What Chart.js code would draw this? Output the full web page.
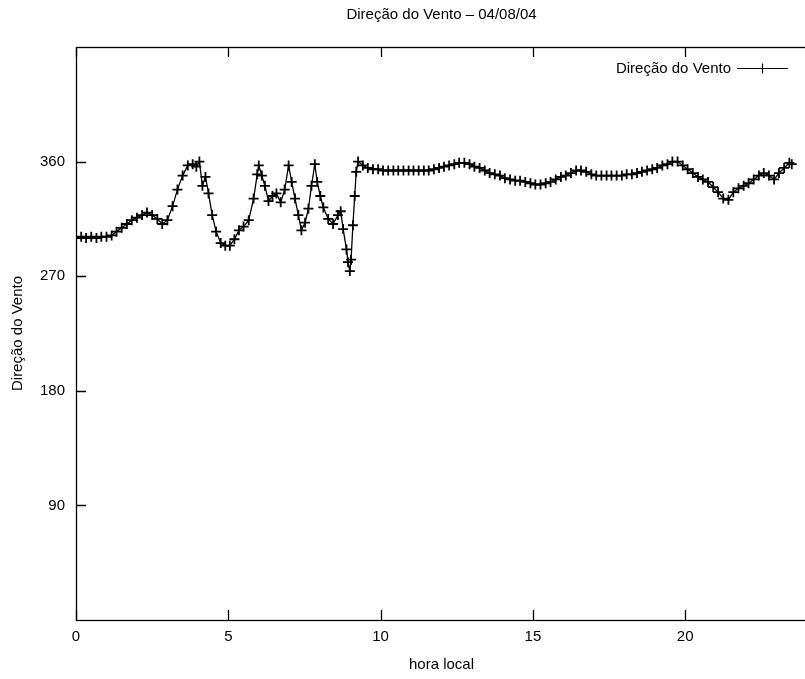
<!DOCTYPE html>
<html>
<head>
<meta charset="utf-8">
<script src="https://cdn.jsdelivr.net/npm/chart.js@4.4.1/dist/chart.umd.min.js"></script>
<style>
  html, body { margin: 0; padding: 0; background: #fff; overflow: hidden; }
  #wrap { width: 805px; height: 679px; overflow: hidden; }
</style>
</head>
<body>
<div id="wrap"><canvas id="grafico" width="815" height="679"></canvas></div>
<script>
// hora local (h) e direção do vento (graus)
const hora = [
  0.00, 0.17, 0.33, 0.50, 0.67, 0.83, 1.00, 1.17, 1.33, 1.50, 1.67, 1.83,
  2.00, 2.17, 2.33, 2.50, 2.67, 2.83, 3.00, 3.17, 3.33, 3.50, 3.67, 3.83,
  3.95, 4.05, 4.15, 4.25, 4.35, 4.47, 4.60, 4.75, 4.90, 5.05, 5.20, 5.35,
  5.50, 5.67, 5.83, 5.95, 6.00, 6.10, 6.20, 6.32, 6.45, 6.58, 6.72, 6.85,
  6.98, 7.08, 7.19, 7.30, 7.40, 7.52, 7.63, 7.73, 7.84, 7.92, 8.02, 8.12,
  8.28, 8.44, 8.60, 8.69, 8.77, 8.88, 8.93, 8.99, 9.03, 9.09, 9.15, 9.20,
  9.26, 9.42, 9.58, 9.75, 9.92, 10.08, 10.25, 10.42, 10.58, 10.75, 10.92,
  11.08, 11.25, 11.42, 11.58, 11.75, 11.92, 12.08, 12.25, 12.42, 12.58,
  12.75, 12.92, 13.08, 13.25, 13.42, 13.58, 13.75, 13.92, 14.08, 14.25,
  14.42, 14.58, 14.75, 14.92, 15.08, 15.25, 15.42, 15.58, 15.75, 15.92,
  16.08, 16.25, 16.42, 16.58, 16.75, 16.92, 17.08, 17.25, 17.42, 17.58,
  17.75, 17.92, 18.08, 18.25, 18.42, 18.58, 18.75, 18.92, 19.08, 19.25,
  19.42, 19.58, 19.75, 19.92, 20.08, 20.25, 20.42, 20.58, 20.75, 20.92,
  21.08, 21.25, 21.42, 21.58, 21.75, 21.92, 22.08, 22.25, 22.42, 22.58,
  22.75, 22.92, 23.08, 23.25, 23.42, 23.50
];
const direcao = [
  300, 301, 300, 301, 300, 301, 301, 302, 305, 308, 311, 314,
  316, 318, 320, 318, 315, 311, 314, 325, 338, 349, 357, 358,
  356, 360, 341, 348, 335, 318, 305, 296, 294, 294, 299, 306,
  309, 314, 331, 350, 357, 349, 341, 329, 333, 335, 328, 338,
  357, 344, 331, 318, 306, 312, 323, 341, 358, 344, 333, 324,
  315, 311, 318, 321, 307, 291, 281, 274, 283, 310, 333, 352,
  360, 357, 355, 354, 354, 353, 353, 353, 353, 353, 353,
  353, 353, 353, 353, 354, 355, 356, 357, 358, 359,
  359, 358, 356, 355, 353, 351, 350, 349, 347, 346,
  345, 345, 344, 343, 342, 342, 343, 344, 346, 348,
  349, 351, 353, 353, 352, 350, 349, 349, 349, 349,
  349, 349, 350, 350, 351, 352, 353, 354, 355, 357,
  358, 360, 360, 357, 354, 351, 348, 346, 344, 340,
  336, 331, 330, 336, 339, 341, 343, 346, 349, 351,
  349, 346, 351, 355, 359, 358
];
const ticksX = [0, 5, 10, 15, 20];
const ticksY = [90, 180, 270, 360];

const fonte = { family: "'Liberation Sans', Arial, sans-serif", size: 15 };

// borda, marcas internas e legenda no estilo gnuplot
const moldura = {
  id: 'moldura',
  afterDraw(chart) {
    const { ctx, chartArea: a, scales: { x, y } } = chart;
    ctx.save();
    ctx.strokeStyle = '#000';
    ctx.lineWidth = 1.3;
    ctx.strokeRect(Math.round(a.left) + 0.5, Math.round(a.top) + 0.5,
      Math.round(a.right - a.left), Math.round(a.bottom - a.top));
    ctx.beginPath();
    ticksX.forEach(v => {
      const px = Math.round(x.getPixelForValue(v)) + 0.5;
      ctx.moveTo(px, a.bottom); ctx.lineTo(px, a.bottom - 10);
      ctx.moveTo(px, a.top); ctx.lineTo(px, a.top + 10);
    });
    ticksY.forEach(v => {
      const py = Math.round(y.getPixelForValue(v)) + 0.5;
      ctx.moveTo(a.left, py); ctx.lineTo(a.left + 10, py);
    });
    ctx.stroke();

    // legenda
    const ds = chart.data.datasets[0];
    const ly = a.top + 21.5;
    const x1 = a.right - 70, x2 = a.right - 19, xm = (x1 + x2) / 2;
    ctx.fillStyle = '#000';
    ctx.font = "15px 'Liberation Sans', Arial, sans-serif";
    ctx.textAlign = 'right';
    ctx.textBaseline = 'middle';
    ctx.fillText(ds.label, x1 - 6, ly);
    ctx.lineWidth = 1.2;
    ctx.beginPath();
    ctx.moveTo(x1, ly); ctx.lineTo(x2, ly);
    ctx.moveTo(xm, ly - 5); ctx.lineTo(xm, ly + 5);
    ctx.stroke();
    ctx.restore();
  }
};

new Chart(document.getElementById('grafico'), {
  type: 'line',
  data: {
    datasets: [{
      label: 'Direção do Vento',
      data: hora.map((h, i) => ({ x: h, y: direcao[i] })),
      borderColor: '#000',
      borderWidth: 1.3,
      pointStyle: 'cross',
      pointRadius: 5,
      pointBorderWidth: 1.8,
      pointBorderColor: '#000',
      pointBackgroundColor: '#000',
      tension: 0,
      fill: false
    }]
  },
  options: {
    responsive: false,
    animation: false,
    layout: { padding: { left: 0, right: 3, top: 0, bottom: 0 } },
    plugins: {
      legend: { display: false },
      tooltip: { enabled: false },
      title: {
        display: true,
        text: 'Direção do Vento – 04/08/04',
        color: '#000',
        fullSize: false,
        font: { ...fonte, weight: 'normal' },
        padding: { top: 6, bottom: 23 }
      }
    },
    scales: {
      x: {
        type: 'linear',
        min: 0,
        max: 24,
        grid: { display: false, drawTicks: false },
        border: { display: false },
        ticks: {
          stepSize: 5,
          padding: 8,
          color: '#000',
          font: fonte,
          maxRotation: 0,
          callback: v => ticksX.includes(v) ? String(v) : ''
        },
        title: {
          display: true,
          text: 'hora local',
          color: '#000',
          font: fonte,
          padding: { top: 2, bottom: 5 }
        }
      },
      y: {
        type: 'linear',
        min: 0,
        max: 450,
        grid: { display: false, drawTicks: false },
        border: { display: false },
        ticks: {
          stepSize: 90,
          padding: 11,
          color: '#000',
          font: fonte,
          callback: v => ticksY.includes(v) ? String(v) : ''
        },
        title: {
          display: true,
          text: 'Direção do Vento',
          color: '#000',
          font: fonte,
          padding: { top: 9, bottom: 2 }
        }
      }
    }
  },
  plugins: [moldura]
});
</script>
</body>
</html>
